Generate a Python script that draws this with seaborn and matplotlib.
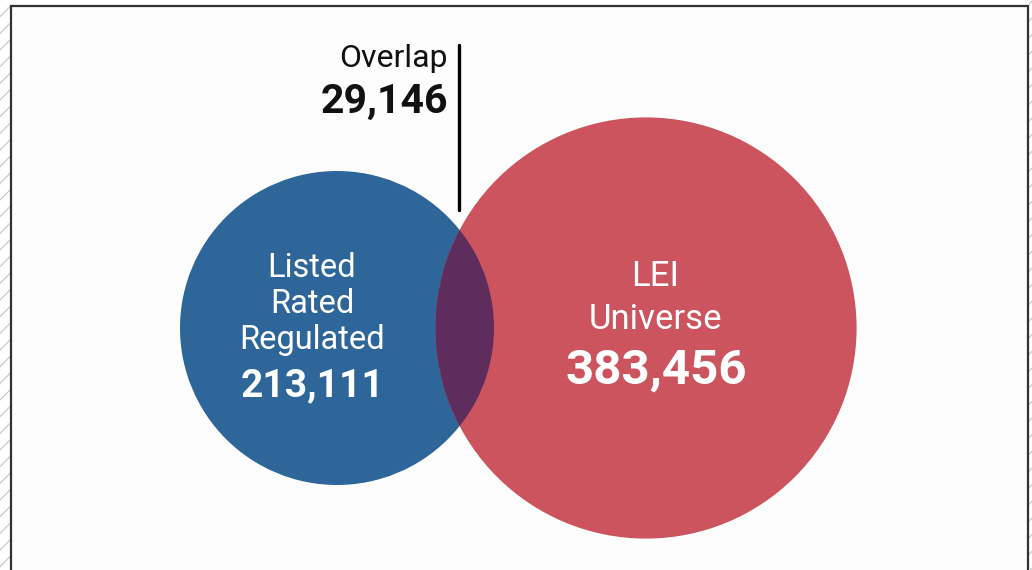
import numpy as np
import matplotlib.pyplot as plt
import matplotlib.patches as mpatches
import seaborn as sns

# data
set_names = ['Listed\nRated\nRegulated', 'LEI\nUniverse']
set_sizes = [213111, 383456]
overlap_size = 29146
overlap_label = 'Overlap'

palette = sns.color_palette(['#2e6699', '#cb545e'])
overlap_color = '#5e2d5e'

sns.set_theme(style='white')
plt.rcParams['font.family'] = ['Roboto', 'DejaVu Sans']

fig = plt.figure(figsize=(10.32, 5.70), dpi=100)
fig.patch.set_facecolor('white')
ax = fig.add_axes([0, 0, 1, 1])
ax.set_xlim(0, 1032)
ax.set_ylim(570, 0)
ax.set_aspect('equal')
ax.axis('off')

# hatched margins + frame
plt.rcParams['hatch.linewidth'] = 0.8
for x0, w in [(-2, 12), (1029, 6)]:
    ax.add_patch(mpatches.Rectangle((x0, -5), w, 580, facecolor='white',
                                    edgecolor='#c4c4c4', hatch='//', lw=0))
ax.add_patch(mpatches.Rectangle((10.5, 5.5), 1017.5, 580, facecolor='#fdfdfd',
                                edgecolor='#333333', lw=1.6))

# circle radii from sqrt of set size (blue ~157 px)
scale = 157 / np.sqrt(set_sizes[0])
radii = [scale * np.sqrt(v) for v in set_sizes]
cy = 328
centers = [(337, cy), (337 + 309, cy)]

circles = []
for (cx, cyy), r, col in zip(centers, radii, palette):
    c = mpatches.Circle((cx, cyy), r, facecolor=col, edgecolor='none', zorder=2)
    ax.add_patch(c)
    circles.append(c)

# overlap lens: blue circle clipped by red circle
lens = mpatches.Circle(centers[0], radii[0], facecolor=overlap_color,
                       edgecolor='none', zorder=3)
ax.add_patch(lens)
lens.set_clip_path(circles[1])

# labels
lines0 = set_names[0].split('\n')
for i, t in enumerate(lines0):
    ax.text(312, 277 + 36 * i, t, color='white', fontsize=23.5, ha='center',
            va='baseline', zorder=5)
ax.text(312, 396, f'{set_sizes[0]:,}', color='white', fontsize=28,
        fontweight='bold', ha='center', va='baseline', zorder=5)

lines1 = set_names[1].split('\n')
for i, t in enumerate(lines1):
    ax.text(655, 286 + 43 * i, t, color='white', fontsize=25, ha='center',
            va='baseline', zorder=5)
ax.text(656, 384, f'{set_sizes[1]:,}', color='white', fontsize=35.5,
        fontweight='bold', ha='center', va='baseline', zorder=5)

ax.text(448, 67, overlap_label, color='#111111', fontsize=23, ha='right',
        va='baseline', zorder=5)
ax.text(448, 113, f'{overlap_size:,}', color='#111111', fontsize=29.5,
        fontweight='bold', ha='right', va='baseline', zorder=5)
ax.plot([459, 459], [45, 210], color='black', lw=2.4, zorder=5)

fig.savefig('out.png', dpi=100)
